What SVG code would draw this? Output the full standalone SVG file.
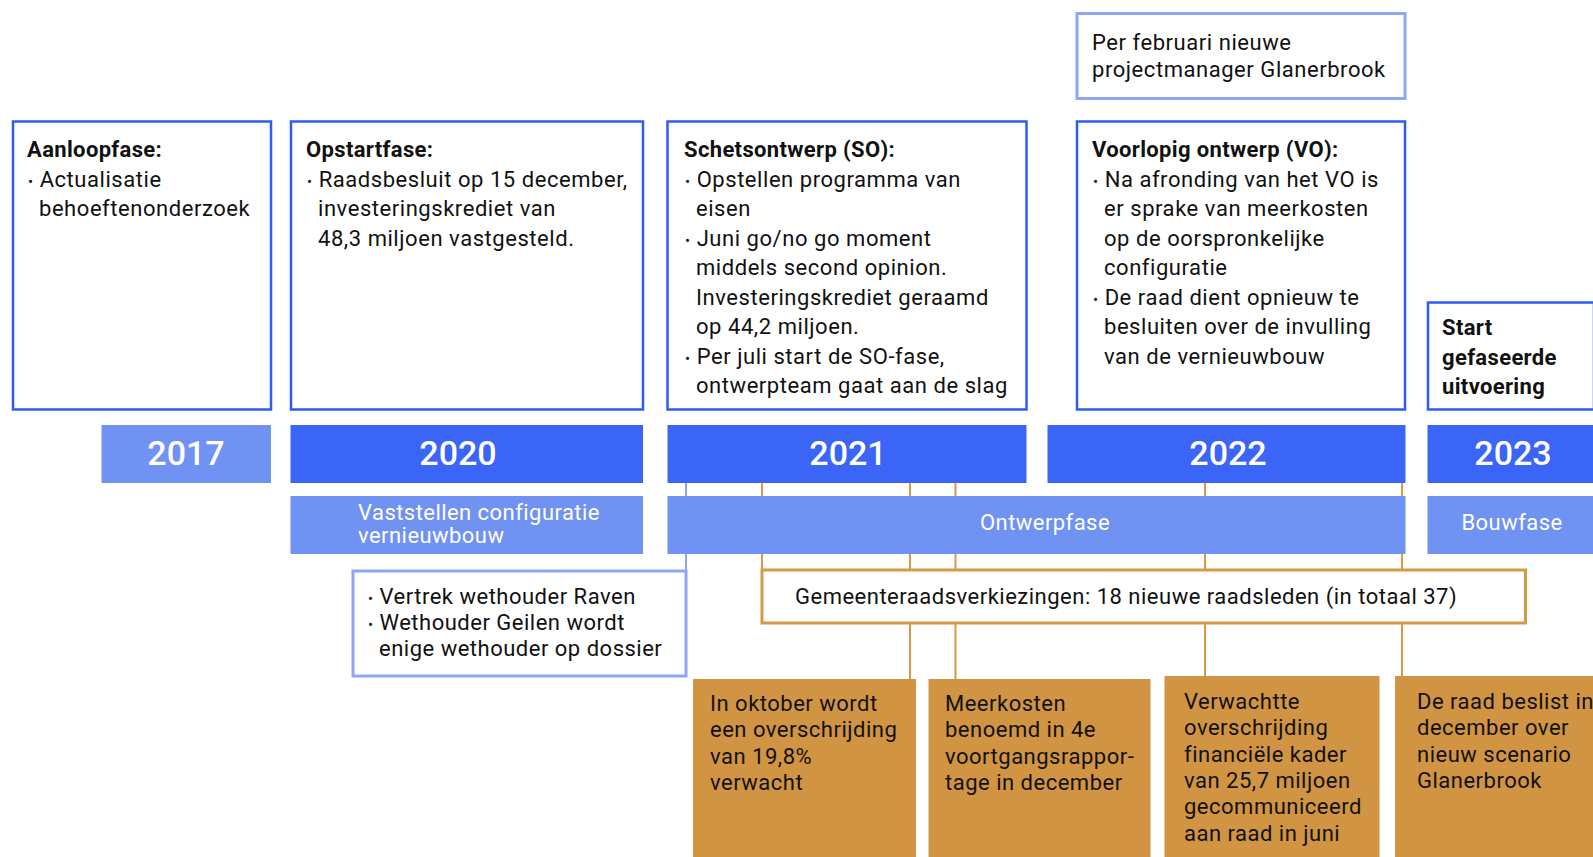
<svg xmlns="http://www.w3.org/2000/svg" width="1593" height="857" viewBox="0 0 1593 857">
<style>
  text { font-family: Roboto, "Liberation Sans", sans-serif; fill: #111; }
  .box { fill: #fff; stroke: #2d5bf4; stroke-width: 2.5; }
  .lbox { fill: #fff; stroke: #8da6f6; stroke-width: 3; }
  .obox { fill: #fff; stroke: #d59a48; stroke-width: 3; }
  .year { fill: #3b65f6; }
  .year-l { fill: #7092f2; }
  .phase { fill: #7092f2; }
  .ev { fill: #d19443; }
  .t { font-size: 22px; letter-spacing: 0.55px; }
  .h { font-size: 22px; font-weight: 700; letter-spacing: 0.35px; }
  .s { font-size: 22px; letter-spacing: 0.5px; }
  .yt { font-size: 34px; font-weight: 500; fill: #fff; text-anchor: middle; }
  .pt { font-size: 22px; fill: #fff; letter-spacing: 0.45px; }
  .b { font-size: 15px; }
  .ol { stroke: #d59a48; stroke-width: 2; fill: none; }
  .bl { stroke: #8da6f6; stroke-width: 2; fill: none; }
</style>

<g id="connectors">
  <line class="bl" x1="686" y1="483" x2="686" y2="571"/>
  <line class="ol" x1="762" y1="483" x2="762" y2="570"/>
  <line class="ol" x1="910" y1="483" x2="910" y2="680"/>
  <line class="ol" x1="955.5" y1="483" x2="955.5" y2="680"/>
  <line class="ol" x1="1205" y1="483" x2="1205" y2="677"/>
  <line class="ol" x1="1402" y1="483" x2="1402" y2="677"/>
</g>

<g id="box-aanloop">
  <rect class="box" x="13" y="121.5" width="258" height="288"/>
  <text class="h" x="27" y="157">Aanloopfase:</text>
  <text class="t" x="28" y="187"><tspan class="b">•</tspan> Actualisatie</text>
  <text class="t" x="39" y="216">behoeftenonderzoek</text>
</g>

<g id="box-opstart">
  <rect class="box" x="291" y="121.5" width="352" height="288"/>
  <text class="h" x="306" y="157">Opstartfase:</text>
  <text class="t" x="307" y="187"><tspan class="b">•</tspan> Raadsbesluit op 15 december,</text>
  <text class="t" x="318" y="216">investeringskrediet van</text>
  <text class="t" x="318" y="246">48,3 miljoen vastgesteld.</text>
</g>

<g id="box-so">
  <rect class="box" x="667.5" y="121.5" width="359" height="288"/>
  <text class="h" x="684" y="157">Schetsontwerp (SO):</text>
  <text class="t" x="685" y="187"><tspan class="b">•</tspan> Opstellen programma van</text>
  <text class="t" x="696" y="216">eisen</text>
  <text class="t" x="685" y="246"><tspan class="b">•</tspan> Juni go/no go moment</text>
  <text class="t" x="696" y="275">middels second opinion.</text>
  <text class="t" x="696" y="305">Investeringskrediet geraamd</text>
  <text class="t" x="696" y="334">op 44,2 miljoen.</text>
  <text class="t" x="685" y="364"><tspan class="b">•</tspan> Per juli start de SO-fase,</text>
  <text class="t" x="696" y="393">ontwerpteam gaat aan de slag</text>
</g>

<g id="box-pm">
  <rect class="lbox" x="1077" y="13.5" width="328" height="85"/>
  <text class="t" x="1092" y="50">Per februari nieuwe</text>
  <text class="t" x="1092" y="77">projectmanager Glanerbrook</text>
</g>

<g id="box-vo">
  <rect class="box" x="1077" y="121.5" width="328" height="288"/>
  <text class="h" x="1092" y="157">Voorlopig ontwerp (VO):</text>
  <text class="t" x="1093" y="187"><tspan class="b">•</tspan> Na afronding van het VO is</text>
  <text class="t" x="1104" y="216">er sprake van meerkosten</text>
  <text class="t" x="1104" y="246">op de oorspronkelijke</text>
  <text class="t" x="1104" y="275">configuratie</text>
  <text class="t" x="1093" y="305"><tspan class="b">•</tspan> De raad dient opnieuw te</text>
  <text class="t" x="1104" y="334">besluiten over de invulling</text>
  <text class="t" x="1104" y="364">van de vernieuwbouw</text>
</g>

<g id="box-start">
  <rect class="box" x="1428" y="302.5" width="166" height="107"/>
  <text class="h" x="1442" y="335">Start</text>
  <text class="h" x="1442" y="365">gefaseerde</text>
  <text class="h" x="1442" y="394">uitvoering</text>
</g>

<g id="year-2017">
  <rect class="year-l" x="101.5" y="425" width="169.5" height="58"/>
  <text class="yt" x="186" y="465">2017</text>
</g>
<g id="year-2020">
  <rect class="year" x="290.5" y="425" width="352.5" height="58"/>
  <text class="yt" x="458" y="465">2020</text>
</g>
<g id="year-2021">
  <rect class="year" x="667.5" y="425" width="359" height="58"/>
  <text class="yt" x="848" y="465">2021</text>
</g>
<g id="year-2022">
  <rect class="year" x="1047.5" y="425" width="358" height="58"/>
  <text class="yt" x="1228" y="465">2022</text>
</g>
<g id="year-2023">
  <rect class="year" x="1427.5" y="425" width="165.5" height="58"/>
  <text class="yt" x="1513" y="465">2023</text>
</g>

<g id="phase-vaststellen">
  <rect class="phase" x="290.5" y="496" width="352.5" height="58"/>
  <text class="pt" x="358" y="520">Vaststellen configuratie</text>
  <text class="pt" x="358" y="543">vernieuwbouw</text>
</g>
<g id="phase-ontwerp">
  <rect class="phase" x="667.5" y="496" width="738" height="58"/>
  <text class="pt" x="1045" y="530" text-anchor="middle">Ontwerpfase</text>
</g>
<g id="phase-bouw">
  <rect class="phase" x="1427.5" y="496" width="165.5" height="58"/>
  <text class="pt" x="1512" y="530" text-anchor="middle">Bouwfase</text>
</g>

<g id="box-wethouder">
  <rect class="lbox" x="353" y="571" width="333" height="105"/>
  <text class="s" x="368" y="604"><tspan class="b">•</tspan> Vertrek wethouder Raven</text>
  <text class="s" x="368" y="630"><tspan class="b">•</tspan> Wethouder Geilen wordt</text>
  <text class="s" x="379" y="656">enige wethouder op dossier</text>
</g>

<g id="box-verkiezingen">
  <rect class="obox" x="762" y="570" width="763.5" height="53"/>
  <text class="s" x="795" y="604">Gemeenteraadsverkiezingen: 18 nieuwe raadsleden (in totaal 37)</text>
</g>

<g id="event-oktober">
  <rect class="ev" x="693" y="679" width="223" height="180"/>
  <text class="s" x="710" y="711">In oktober wordt</text>
  <text class="s" x="710" y="737">een overschrijding</text>
  <text class="s" x="710" y="764">van 19,8%</text>
  <text class="s" x="710" y="790">verwacht</text>
</g>
<g id="event-meerkosten">
  <rect class="ev" x="928.5" y="679" width="222" height="180"/>
  <text class="s" x="945" y="711">Meerkosten</text>
  <text class="s" x="945" y="737">benoemd in 4e</text>
  <text class="s" x="945" y="764">voortgangsrappor-</text>
  <text class="s" x="945" y="790">tage in december</text>
</g>
<g id="event-overschrijding">
  <rect class="ev" x="1164.5" y="676" width="215" height="183"/>
  <text class="s" x="1184" y="709">Verwachtte</text>
  <text class="s" x="1184" y="735">overschrijding</text>
  <text class="s" x="1184" y="762">financiële kader</text>
  <text class="s" x="1184" y="788">van 25,7 miljoen</text>
  <text class="s" x="1184" y="814">gecommuniceerd</text>
  <text class="s" x="1184" y="841">aan raad in juni</text>
</g>
<g id="event-besluit">
  <rect class="ev" x="1395" y="676" width="200" height="183"/>
  <text class="s" x="1417" y="709">De raad beslist in</text>
  <text class="s" x="1417" y="735">december over</text>
  <text class="s" x="1417" y="762">nieuw scenario</text>
  <text class="s" x="1417" y="788">Glanerbrook</text>
</g>
</svg>
